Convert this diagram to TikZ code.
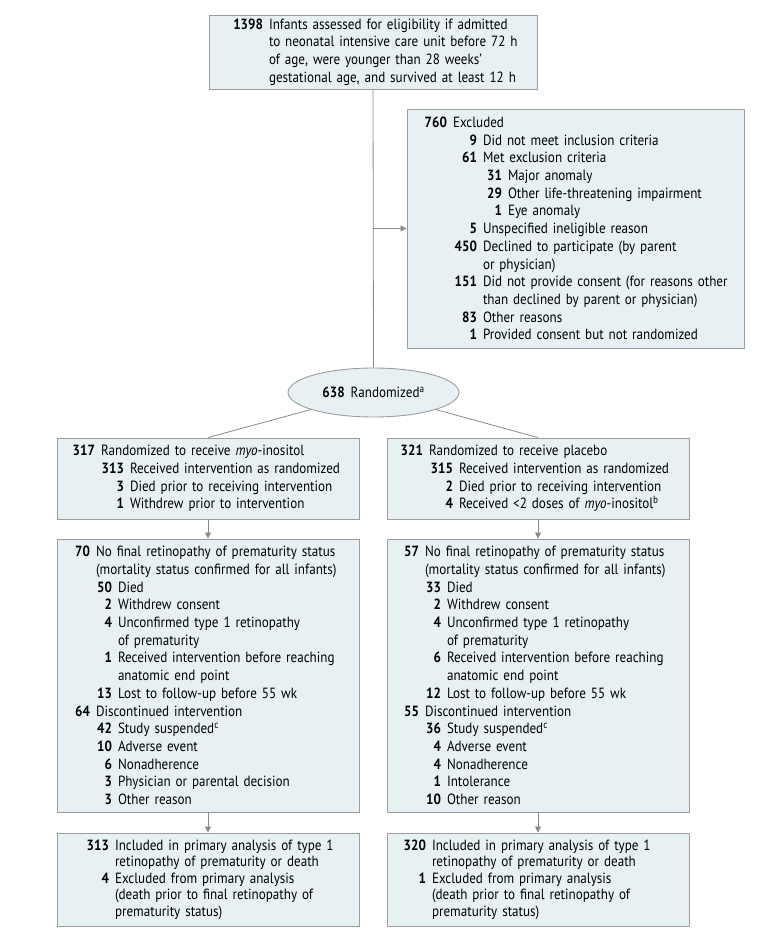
\documentclass[tikz,border=0pt]{standalone}
\usepackage{fontspec}
\setmainfont{PT Sans}[FakeStretch=0.885]
\usetikzlibrary{shapes.geometric,arrows.meta,calc}
\definecolor{boxfill}{HTML}{E7F1F4}
\definecolor{boxline}{HTML}{9C9C9C}
\definecolor{linkgray}{HTML}{8A8A8A}
\newcommand{\nitem}[3]{\hspace*{#1pt}\mbox{\makebox[0pt][r]{\bfseries #2}\hspace{6pt}#3}}

\begin{document}
\begin{tikzpicture}[x=1pt,y=-1pt,
  boxnode/.style={draw=boxline,fill=boxfill,line width=0.9pt,rectangle,
    inner xsep=0pt,inner ysep=0pt,align=left,
    font=\fontsize{14.8}{17.7}\selectfont},
  randnode/.style={draw=boxline,fill=boxfill,line width=0.9pt,ellipse,
    inner sep=0pt,minimum width=171pt,minimum height=49pt,
    font=\fontsize{14.8}{17.7}\selectfont},
  link/.style={draw=linkgray,line width=0.8pt},
  arrowlink/.style={link,-{Triangle[width=6pt,length=6pt]}}]
  \useasboundingbox (0,0) rectangle (780,939);
  \node[boxnode,text width=328pt,minimum height=74pt] (top) at (373,52) {%
    \nitem{54}{1398}{Infants assessed for eligibility if admitted}\\
    \nitem{54}{}{to neonatal intensive care unit before 72 h}\\
    \nitem{54}{}{of age, were younger than 28 weeks’}\\
    \nitem{54}{}{gestational age, and survived at least 12 h}};
  \node[boxnode,text width=337pt,minimum height=239pt] (excl) at ($(top)+(202.5,176.5)$) {%
    \nitem{40}{760}{Excluded}\\
    \nitem{70}{9}{Did not meet inclusion criteria}\\
    \nitem{70}{61}{Met exclusion criteria}\\
    \nitem{95}{31}{Major anomaly}\\
    \nitem{95}{29}{Other life-threatening impairment}\\
    \nitem{95}{1}{Eye anomaly}\\
    \nitem{70}{5}{Unspecified ineligible reason}\\
    \nitem{70}{450}{Declined to participate (by parent}\\
    \nitem{70}{}{or physician)}\\
    \nitem{70}{151}{Did not provide consent (for reasons other}\\
    \nitem{70}{}{than declined by parent or physician)}\\
    \nitem{70}{83}{Other reasons}\\
    \nitem{70}{1}{Provided consent but not randomized}};
  \node[randnode] (rand) at ($(top)+(0.5,340.5)$)
    {\textbf{638}\hspace{6pt}Randomized\textsuperscript{a}};
  \node[boxnode,text width=302pt,minimum height=81pt] (lb1) at ($(rand)+(-165.5,86)$) {%
    \nitem{38}{317}{Randomized to receive \textit{myo}-inositol}\\
    \nitem{67}{313}{Received intervention as randomized}\\
    \nitem{67}{3}{Died prior to receiving intervention}\\
    \nitem{67}{1}{Withdrew prior to intervention}};
  \node[boxnode,text width=302pt,minimum height=81pt] (rb1) at ($(rand)+(164.5,86)$) {%
    \nitem{36}{321}{Randomized to receive placebo}\\
    \nitem{66}{315}{Received intervention as randomized}\\
    \nitem{66}{2}{Died prior to receiving intervention}\\
    \nitem{66}{4}{Received <2 doses of \textit{myo}-inositol\textsuperscript{b}}};
  \node[boxnode,text width=302pt,minimum height=273pt] (lb2) at ($(lb1)+(0,197)$) {%
    \nitem{33}{70}{No final retinopathy of prematurity status}\\
    \nitem{33}{}{(mortality status confirmed for all infants)}\\
    \nitem{55}{50}{Died}\\
    \nitem{55}{2}{Withdrew consent}\\
    \nitem{55}{4}{Unconfirmed type 1 retinopathy}\\
    \nitem{55}{}{of prematurity}\\
    \nitem{55}{1}{Received intervention before reaching}\\
    \nitem{55}{}{anatomic end point}\\
    \nitem{55}{13}{Lost to follow-up before 55 wk}\\
    \nitem{33}{64}{Discontinued intervention}\\
    \nitem{55}{42}{Study suspended\textsuperscript{c}}\\
    \nitem{55}{10}{Adverse event}\\
    \nitem{55}{6}{Nonadherence}\\
    \nitem{55}{3}{Physician or parental decision}\\
    \nitem{55}{3}{Other reason}};
  \node[boxnode,text width=302pt,minimum height=273pt] (rb2) at ($(rb1)+(0,197)$) {%
    \nitem{32}{57}{No final retinopathy of prematurity status}\\
    \nitem{32}{}{(mortality status confirmed for all infants)}\\
    \nitem{54}{33}{Died}\\
    \nitem{54}{2}{Withdrew consent}\\
    \nitem{54}{4}{Unconfirmed type 1 retinopathy}\\
    \nitem{54}{}{of prematurity}\\
    \nitem{54}{6}{Received intervention before reaching}\\
    \nitem{54}{}{anatomic end point}\\
    \nitem{54}{12}{Lost to follow-up before 55 wk}\\
    \nitem{32}{55}{Discontinued intervention}\\
    \nitem{54}{36}{Study suspended\textsuperscript{c}}\\
    \nitem{54}{4}{Adverse event}\\
    \nitem{54}{4}{Nonadherence}\\
    \nitem{54}{1}{Intolerance}\\
    \nitem{54}{10}{Other reason}};
  \node[boxnode,text width=302pt,minimum height=93pt,
    font=\fontsize{14.8}{16.5}\selectfont] (lb3) at ($(lb2)+(0,204)$) {%
    \nitem{52}{313}{Included in primary analysis of type 1}\\
    \nitem{52}{}{retinopathy of prematurity or death}\\
    \nitem{52}{4}{Excluded from primary analysis}\\
    \nitem{52}{}{(death prior to final retinopathy of}\\
    \nitem{52}{}{prematurity status)}};
  \node[boxnode,text width=302pt,minimum height=93pt,
    font=\fontsize{14.8}{16.5}\selectfont] (rb3) at ($(rb2)+(0,204)$) {%
    \nitem{39}{320}{Included in primary analysis of type 1}\\
    \nitem{39}{}{retinopathy of prematurity or death}\\
    \nitem{39}{1}{Excluded from primary analysis}\\
    \nitem{39}{}{(death prior to final retinopathy of}\\
    \nitem{39}{}{prematurity status)}};
  % flow lines
  \coordinate (split) at (top.south |- excl.west);
  \path[link] (top.south) -- (rand.north);
  \path[arrowlink] (split) -- (excl.west);
  \path[link] (rand) -- (lb1.north);
  \path[link] (rand) -- (rb1.north);
  \path[arrowlink] (lb1) -- (lb2);
  \path[arrowlink] (rb1) -- (rb2);
  \path[arrowlink] (lb2) -- (lb3);
  \path[arrowlink] (rb2) -- (rb3);
\end{tikzpicture}
\end{document}
